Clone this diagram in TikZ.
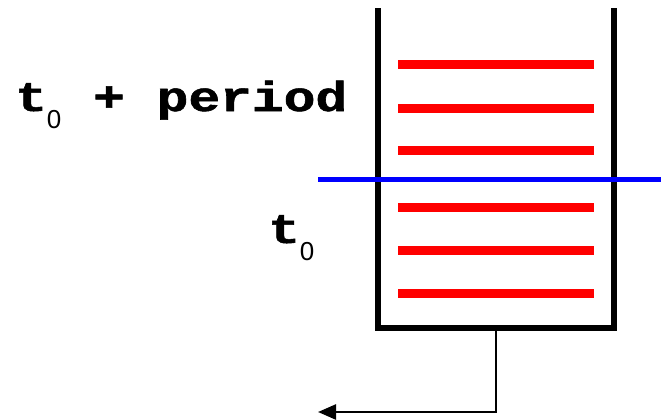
\documentclass[tikz,border=0pt]{standalone}
\usepackage{fontspec}
\usetikzlibrary{arrows.meta}
\newfontfamily\codefont{Liberation Mono Bold}[FakeBold=1.2]
\newfontfamily\digitfont{Liberation Sans}
\newcommand{\widetext}[1]{\scalebox{1.26}[1]{#1}}
\newcommand{\tnought}{\widetext{t}\raisebox{-17pt}{\digitfont\fontsize{26}{26}\selectfont 0}}

\tikzset{
    wallline/.style={line width=6pt, line cap=rect},
    levelline/.style={red, line width=9pt},
    nowline/.style={blue, line width=5pt},
    outflow/.style={line width=2.5pt, -{Triangle[length=18pt, width=15pt]}},
    timelabel/.style={inner sep=0pt, font=\codefont\fontsize{42}{42}\selectfont}
}

\begin{document}
\begin{tikzpicture}[x=1pt, y=-1pt]
    \useasboundingbox (0, 0) rectangle (661, 420);

    % bucket
    \draw[wallline] (378, 11) -- (378, 328) -- (614, 328) -- (614, 11);

    % stored entries
    \foreach \y in {65, 108, 150, 207, 250, 293} {
        \draw[levelline] (398, \y) -- (594, \y);
    }

    % current time
    \draw[nowline] (318, 179) -- (661, 179);

    % labels
    \node[timelabel, anchor=base west] (tperiod) at (15, 111) {\tnought\widetext{ + period}};
    \node[timelabel, anchor=base west] (tzero) at (268, 243) {\tnought};

    % drain
    \coordinate (drain) at (496, 331);
    \coordinate (bend) at (496, 412);
    \coordinate (out) at (318, 412);
    \draw[outflow] (drain) -- (bend) -- (out);
\end{tikzpicture}
\end{document}
